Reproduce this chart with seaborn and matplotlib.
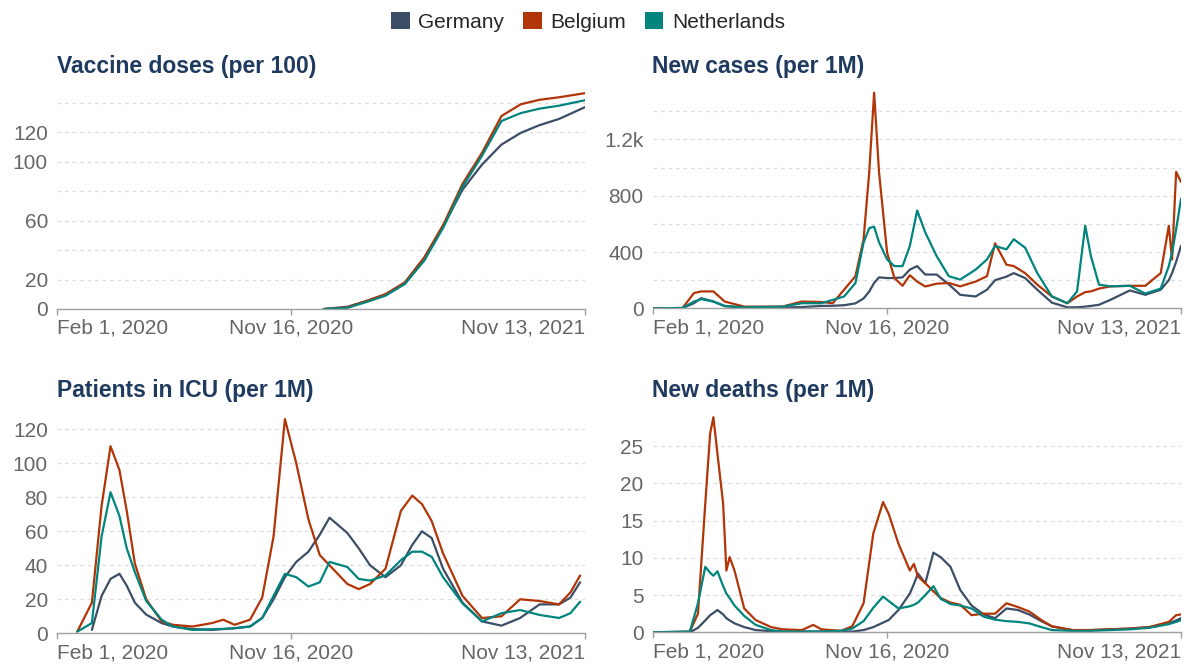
import numpy as np
import pandas as pd
import seaborn as sns
import matplotlib.pyplot as plt
from matplotlib.patches import Patch

countries = ["Germany", "Belgium", "Netherlands"]
colors = ["#3c4e66", "#b13507", "#00847e"]

# Vaccine doses (per 100)
vax_dates = ["2020-12-26", "2021-01-24", "2021-02-17", "2021-03-12", "2021-04-05", "2021-04-29",
             "2021-05-23", "2021-06-15", "2021-07-09", "2021-08-02", "2021-08-26", "2021-09-18",
             "2021-10-12", "2021-11-13"]
vax_germany = [0, 1.5, 5.5, 10, 18, 35, 57, 81, 98, 111.6, 119.6, 124.8, 129, 137]
vax_belgium = [0, 1.2, 5.5, 10, 18, 35, 58, 85, 106, 131, 139, 142, 143.7, 146.5]
vax_netherlands = [0, 0.8, 4.8, 9, 17, 33, 56, 83, 104, 127.6, 133, 136, 138, 141.7]

# New cases (per 1M)
cases_dates = ["2020-02-01", "2020-03-09", "2020-03-23", "2020-04-01", "2020-04-16", "2020-04-30",
               "2020-05-24", "2020-07-10", "2020-08-03", "2020-08-27", "2020-09-10", "2020-09-24",
               "2020-10-08", "2020-10-18", "2020-10-25", "2020-10-31", "2020-11-06", "2020-11-16",
               "2020-11-25", "2020-12-05", "2020-12-14", "2020-12-23", "2021-01-02", "2021-01-16",
               "2021-01-31", "2021-02-14", "2021-03-05", "2021-03-19", "2021-03-29", "2021-04-12",
               "2021-04-21", "2021-05-05", "2021-05-20", "2021-06-07", "2021-06-26", "2021-07-08",
               "2021-07-18", "2021-07-25", "2021-08-04", "2021-08-18", "2021-09-11", "2021-09-30",
               "2021-10-19", "2021-10-29", "2021-11-02", "2021-11-07", "2021-11-13"]
cases_germany = [0, 2, 36, 72, 48, 15, 6, 5, 9, 17, 18, 22, 35, 70, 120, 180, 220, 215, 215, 220,
                 275, 300, 240, 240, 170, 96, 84, 132, 200, 225, 250, 215, 132, 40, 7, 7, 12, 17,
                 25, 60, 127, 96, 132, 200, 250, 330, 443]
cases_belgium = [0, 2, 108, 120, 120, 48, 12, 12, 48, 45, 36, 132, 228, 491, 970, 1533, 970, 395,
                 215, 160, 235, 190, 155, 175, 180, 156, 190, 228, 462, 310, 300, 250, 168, 84, 36,
                 84, 115, 120, 140, 156, 160, 160, 250, 587, 347, 970, 898]
cases_netherlands = [0, 2, 48, 65, 48, 17, 7, 12, 36, 36, 60, 84, 180, 467, 570, 580, 470, 347,
                     300, 300, 443, 695, 539, 371, 228, 204, 275, 347, 443, 419, 491, 431, 250, 84,
                     36, 120, 587, 371, 168, 156, 160, 105, 140, 300, 395, 560, 778]

# Patients in ICU (per 1M)
icu_dates = ["2020-02-26", "2020-03-15", "2020-03-27", "2020-04-07", "2020-04-18", "2020-04-27",
             "2020-05-07", "2020-05-21", "2020-06-09", "2020-06-23", "2020-07-17", "2020-08-10",
             "2020-08-24", "2020-09-07", "2020-09-26", "2020-10-11", "2020-10-25", "2020-11-08",
             "2020-11-22", "2020-12-07", "2020-12-21", "2021-01-02", "2021-01-24", "2021-02-07",
             "2021-02-21", "2021-03-12", "2021-03-31", "2021-04-14", "2021-04-26", "2021-05-08",
             "2021-05-22", "2021-06-15", "2021-07-09", "2021-08-02", "2021-08-25", "2021-09-18",
             "2021-10-12", "2021-10-26", "2021-11-07"]
icu_germany = [np.nan, 2, 22, 32, 35, 28, 18, 11, 6, 4, 2.5, 2, 2.5, 3, 4, 9, 20, 33, 42, 48, 58,
               68, 59, 50, 40, 33, 40, 52, 60, 56, 38, 18, 7, 4.5, 9, 17, 17, 21, 30]
icu_belgium = [1, 18, 75, 110, 96, 72, 41, 20, 7, 5, 4, 6, 8, 5, 8, 21, 57, 126, 100, 67, 46, 40,
               29, 26, 29, 38, 72, 81, 76, 66, 47, 22, 9, 10, 20, 19, 17, 24, 34]
icu_netherlands = [1, 6, 57, 83, 69, 50, 36, 19, 8, 4, 2, 2.4, 2.6, 3, 4, 9, 22, 35, 33, 27.5, 30,
                   42, 39, 32, 31, 34, 43, 48, 48, 45, 33, 17.6, 7, 11.8, 13.7, 10.8, 9, 11.8, 18.6]

# New deaths (per 1M)
deaths_dates = ["2020-02-01", "2020-03-18", "2020-03-28", "2020-04-06", "2020-04-12", "2020-04-16",
                "2020-04-21", "2020-04-28", "2020-05-02", "2020-05-06", "2020-05-12", "2020-05-24",
                "2020-06-07", "2020-06-26", "2020-07-10", "2020-08-03", "2020-08-17", "2020-08-27",
                "2020-09-20", "2020-10-04", "2020-10-18", "2020-10-30", "2020-11-11", "2020-11-18",
                "2020-11-30", "2020-12-14", "2020-12-19", "2020-12-24", "2021-01-02", "2021-01-12",
                "2021-01-21", "2021-02-02", "2021-02-14", "2021-02-28", "2021-03-15", "2021-03-29",
                "2021-04-12", "2021-04-26", "2021-05-10", "2021-05-25", "2021-06-07", "2021-07-02",
                "2021-07-25", "2021-08-18", "2021-09-11", "2021-10-05", "2021-10-29", "2021-11-07",
                "2021-11-13"]
deaths_germany = [0, 0, 0.6, 1.6, 2.3, 2.6, 3.0, 2.4, 1.9, 1.6, 1.2, 0.7, 0.3, 0.15, 0.1, 0.1, 0.1,
                  0.1, 0.1, 0.1, 0.3, 0.7, 1.3, 1.65, 3.0, 5.2, 6.5, 7.9, 6.6, 10.7, 10.1, 8.8, 5.7,
                  3.6, 2.4, 1.9, 3.2, 3.0, 2.4, 1.5, 0.8, 0.3, 0.3, 0.4, 0.5, 0.7, 1.2, 1.6, 1.9]
deaths_belgium = [0, 0.1, 2.5, 17.3, 26.7, 28.9, 24, 17.3, 8.3, 10.1, 8.3, 3.2, 1.65, 0.7, 0.4, 0.3,
                  1.0, 0.4, 0.2, 0.8, 3.9, 13.3, 17.5, 15.9, 11.9, 8.3, 9.2, 7.5, 6.6, 5.5, 4.6, 4.0,
                  3.7, 2.3, 2.5, 2.5, 3.9, 3.4, 2.8, 1.65, 0.8, 0.3, 0.3, 0.4, 0.5, 0.7, 1.4, 2.3, 2.4]
deaths_netherlands = [0, 0.1, 3.9, 8.8, 8.0, 7.6, 8.2, 6.2, 5.2, 4.6, 3.6, 2.2, 1.0, 0.3, 0.1, 0.1,
                      0.1, 0.1, 0.2, 0.5, 1.5, 3.3, 4.8, 4.2, 3.2, 3.5, 3.7, 4.0, 5.0, 6.2, 4.5, 3.8,
                      3.6, 3.2, 2.1, 1.7, 1.5, 1.4, 1.2, 0.7, 0.3, 0.2, 0.2, 0.3, 0.4, 0.6, 1.1, 1.4,
                      1.65]

xtick_dates = ["2020-02-01", "2020-11-16", "2021-11-13"]
xtick_labels = ["Feb 1, 2020", "Nov 16, 2020", "Nov 13, 2021"]


def long_form(dates, de, be, nl):
    df = pd.DataFrame({"date": pd.to_datetime(dates), "Germany": de, "Belgium": be, "Netherlands": nl})
    return df.melt(id_vars="date", var_name="country", value_name="value").dropna()


sns.set_theme(style="white")
plt.rcParams["font.family"] = ["Liberation Sans", "DejaVu Sans"]

W, H = 1189, 664
fig = plt.figure(figsize=(W / 100, H / 100), dpi=100)


def box(x0, y_top, x1, y_bot):
    return [x0 / W, 1 - y_bot / H, (x1 - x0) / W, (y_bot - y_top) / H]


panels = [
    ("Vaccine doses (per 100)", long_form(vax_dates, vax_germany, vax_belgium, vax_netherlands),
     150, np.arange(0, 141, 20), {0: "0", 20: "20", 60: "60", 100: "100", 120: "120"},
     box(57, 88, 585, 309), (57, 67)),
    ("New cases (per 1M)", long_form(cases_dates, cases_germany, cases_belgium, cases_netherlands),
     1566, np.arange(0, 1401, 200), {0: "0", 400: "400", 800: "800", 1200: "1.2k"},
     box(652.5, 88, 1181, 308.3), (652, 67)),
    ("Patients in ICU (per 1M)", long_form(icu_dates, icu_germany, icu_belgium, icu_netherlands),
     128.4, np.arange(0, 121, 20), None,
     box(57, 415, 585, 633.3), (57, 390)),
    ("New deaths (per 1M)", long_form(deaths_dates, deaths_germany, deaths_belgium, deaths_netherlands),
     29.2, np.arange(0, 26, 5), None,
     box(652.5, 415, 1181, 632.3), (652, 390)),
]

for title, df, ytop, grid_vals, labels, rect, tpos in panels:
    ax = fig.add_axes(rect)
    sns.lineplot(data=df, x="date", y="value", hue="country", hue_order=countries,
                 palette=colors, estimator=None, linewidth=1.6, legend=False, ax=ax)
    ax.set_xlim(pd.Timestamp("2020-02-01"), pd.Timestamp("2021-11-13"))
    ax.set_ylim(0, ytop)
    ax.set_xlabel("")
    ax.set_ylabel("")
    ax.set_yticks(grid_vals)
    if labels is None:
        ax.set_yticklabels([str(v) for v in grid_vals])
    else:
        ax.set_yticklabels([labels.get(v, "") for v in grid_vals])
    ax.set_xticks(pd.to_datetime(xtick_dates))
    ax.set_xticklabels(xtick_labels)
    for lab, ha in zip(ax.get_xticklabels(), ["left", "center", "right"]):
        lab.set_ha(ha)
    ax.tick_params(axis="y", length=0, pad=6.5, labelsize=15, labelcolor="#666666")
    ax.tick_params(axis="x", length=4, width=1, color="#a0a0a0", pad=3,
                   labelsize=15, labelcolor="#666666", bottom=True)
    ax.grid(axis="y", color="#dddddd", linestyle=(0, (3, 3)), linewidth=0.9)
    ax.set_axisbelow(True)
    for side in ["top", "right", "left"]:
        ax.spines[side].set_visible(False)
    ax.spines["bottom"].set_color("#a0a0a0")
    ax.spines["bottom"].set_linewidth(1)
    fig.text(tpos[0] / W, 1 - tpos[1] / H, title, fontsize=16.5, fontweight="bold",
             color="#1f3a5f", ha="left", va="center")

handles = [Patch(facecolor=c, edgecolor="none", label=n) for n, c in zip(countries, colors)]
fig.legend(handles=handles, loc="center", bbox_to_anchor=(588 / W, 1 - 22 / H), ncol=3,
           frameon=False, fontsize=15, handlelength=0.9, handleheight=0.9,
           handletextpad=0.4, columnspacing=0.9)

fig.savefig("out.png", dpi=100)
